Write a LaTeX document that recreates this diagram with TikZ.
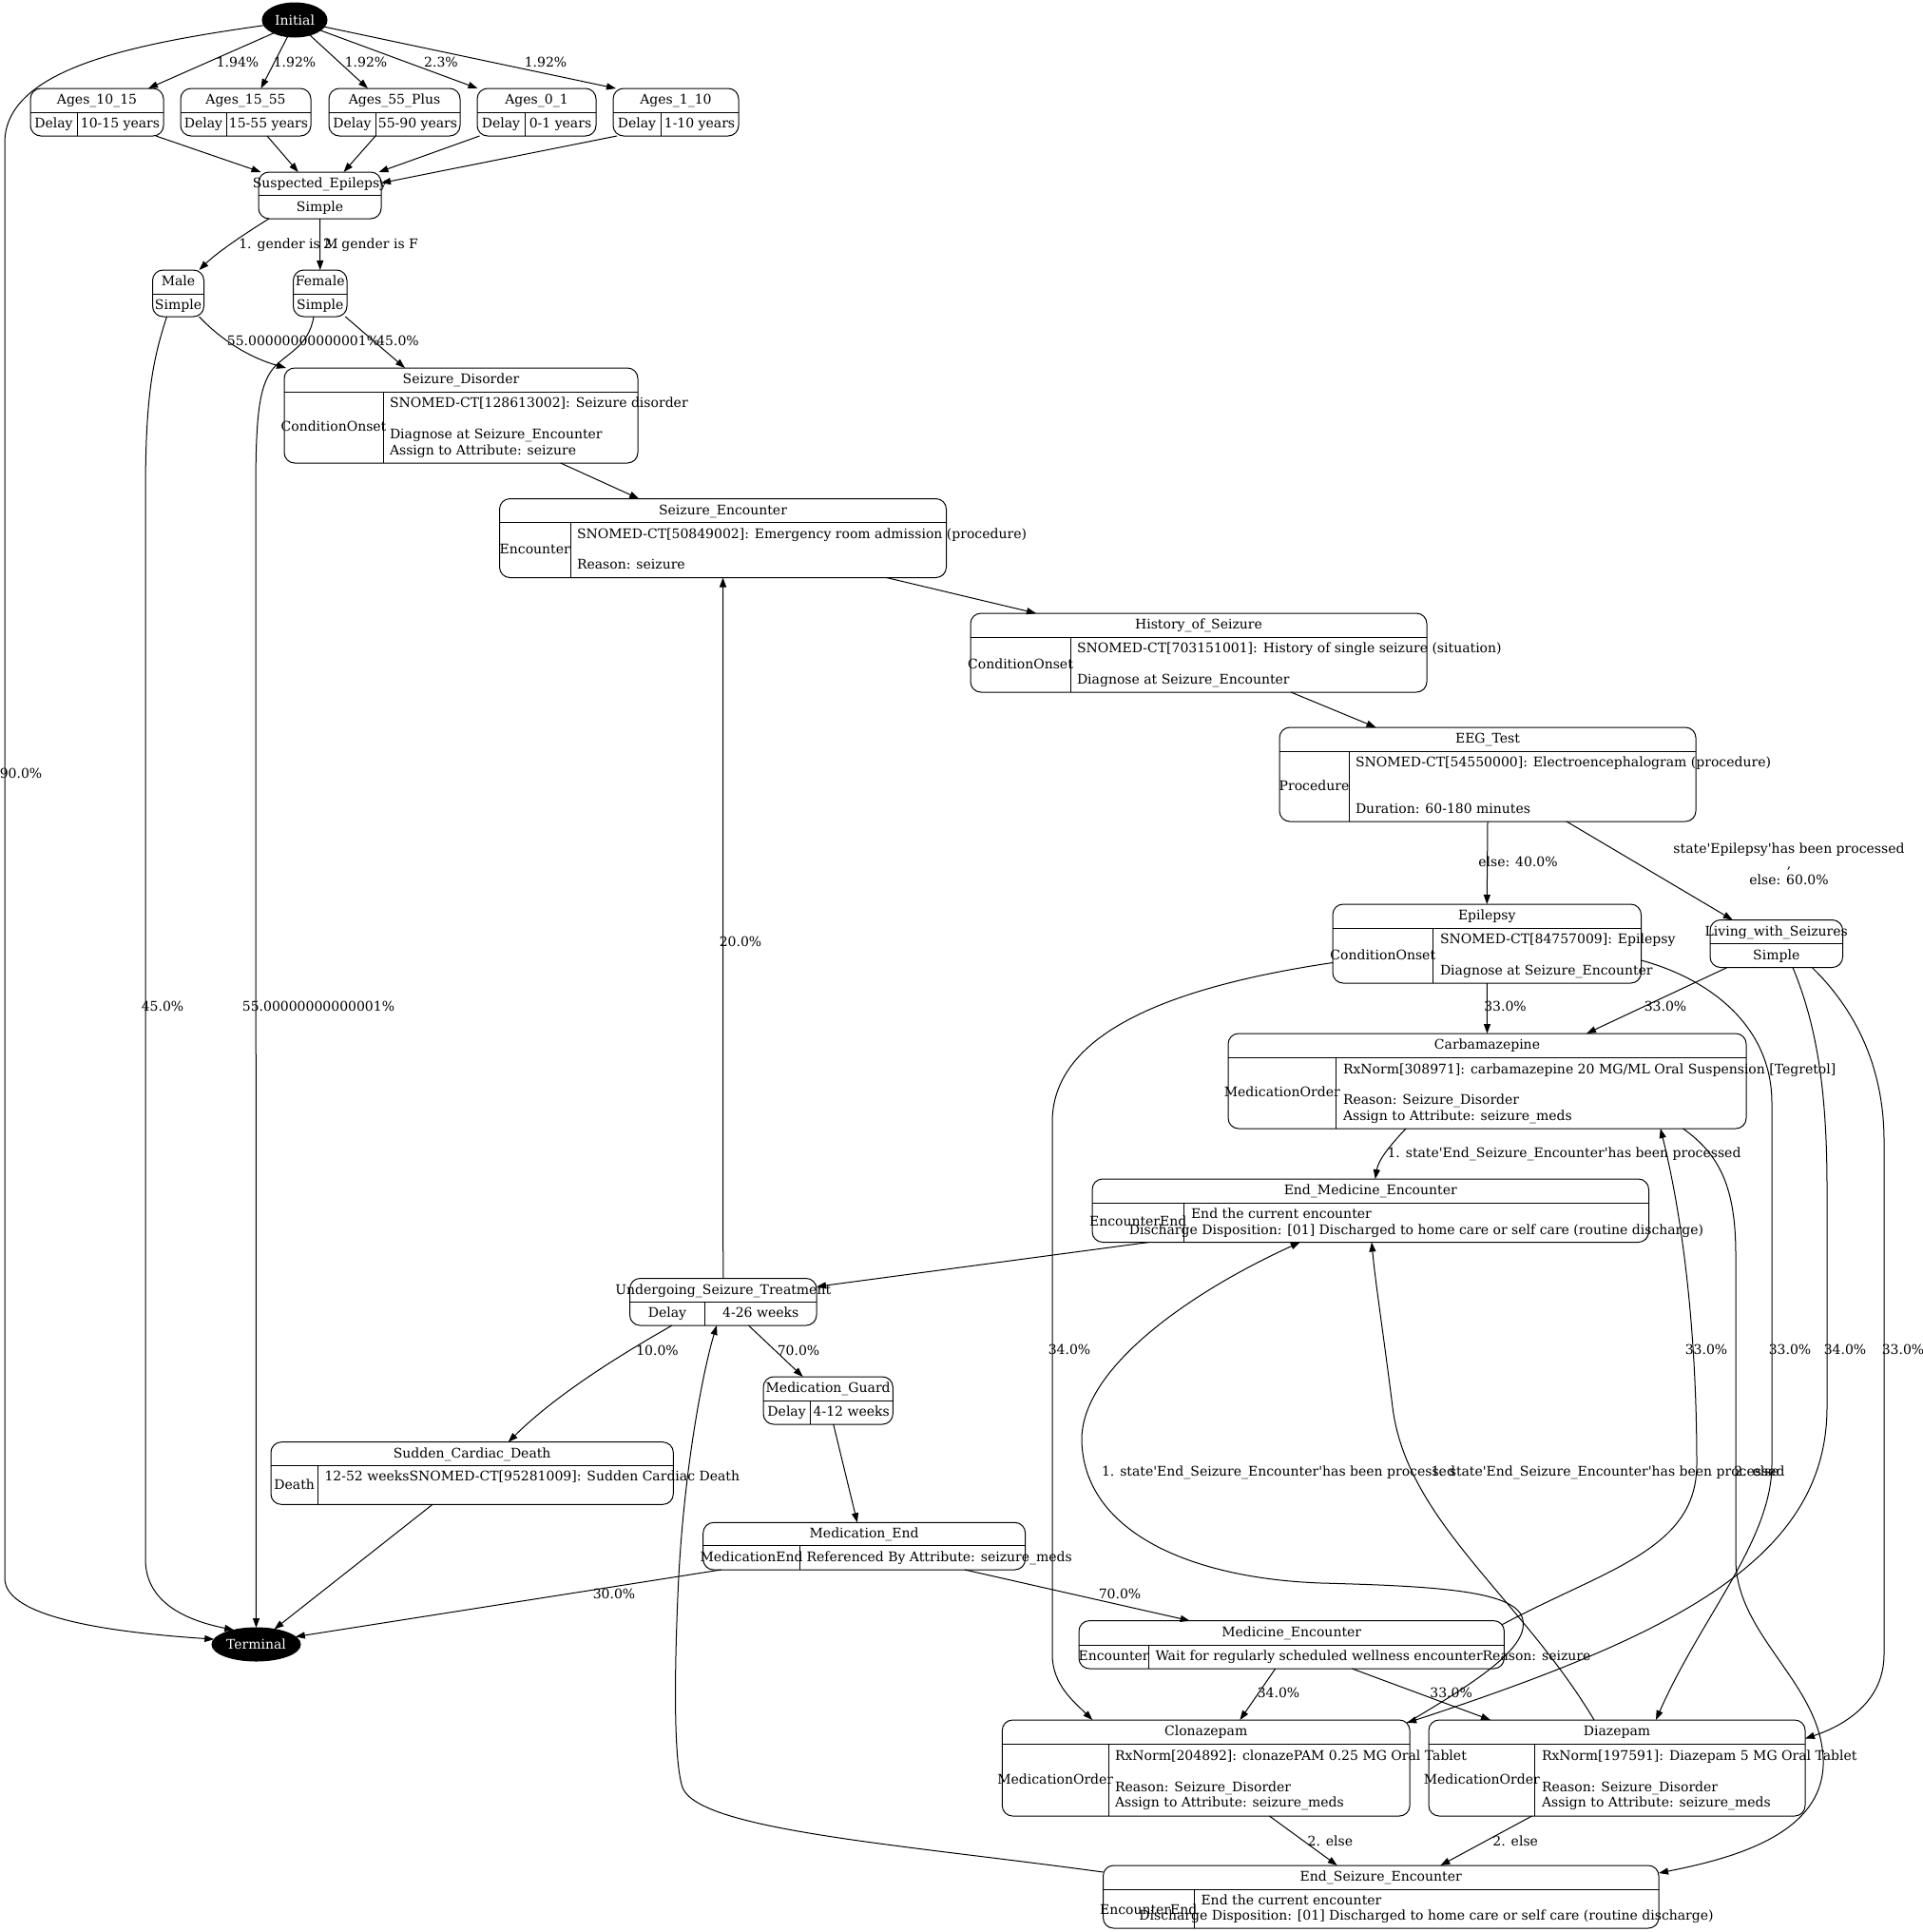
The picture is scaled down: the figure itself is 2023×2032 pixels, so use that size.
\documentclass[tikz,border=0pt]{standalone}
\usepackage{fontspec}
\setmainfont{DejaVu Serif}
\usetikzlibrary{arrows.meta,shapes.geometric}
\newcommand\gvf{\fontsize{14bp}{16.6bp}\selectfont}
\newcommand\gvq{\textquotesingle}
\tikzset{
 recbox/.style={draw, line width=1bp, rounded corners=11bp, inner sep=0pt, outer sep=0pt},
 recline/.style={draw, line width=1bp},
 txt/.style={font=\gvf, inner sep=0pt, outer sep=0pt, anchor=mid, yshift=-1.5bp},
 ltxt/.style={txt, anchor=mid west},
 edge/.style={draw, line width=1bp, -{Triangle[length=10bp,width=7bp]}},
 elab/.style={txt},
 blob/.style={ellipse, fill=black, draw=black, line width=1bp, text=white, font=\gvf, inner sep=0pt, outer sep=0pt},
}
\newcommand\gvrec[6]{%
 \node[recbox, minimum width=#4bp-#2bp, minimum height=#5bp-#3bp, anchor=north west] (#1) at (#2,#3) {};
 \draw[recline] (#2,#6) -- (#4,#6);}
\newcommand\gvcol[3]{\draw[recline] (#1,#2) -- (#1,#3);}
\begin{document}
\begin{tikzpicture}[x=1bp,y=-1bp]
\useasboundingbox (0,0) rectangle (2023,2032);
\fill[white] (0,0) rectangle (2023,2032);

% ---------- nodes ----------
\node[blob, minimum width=68bp, minimum height=36bp] (init) at (310,21) {Initial};
\node[blob, minimum width=93bp, minimum height=35bp] (term) at (269.5,1729.5) {Terminal};

\gvrec{a1015}{32}{93}{172}{143}{118}\gvcol{81}{118}{143}
\node[txt] at (102,105.5) {Ages\_10\_15};
\node[txt] at (56.5,130.5) {Delay};
\node[txt] at (126.5,130.5) {10-15 years};

\gvrec{a1555}{190}{93}{327}{143}{118}\gvcol{238}{118}{143}
\node[txt] at (258.5,105.5) {Ages\_15\_55};
\node[txt] at (214,130.5) {Delay};
\node[txt] at (282.5,130.5) {15-55 years};

\gvrec{a55p}{346}{93}{484}{143}{118}\gvcol{395}{118}{143}
\node[txt] at (415,105.5) {Ages\_55\_Plus};
\node[txt] at (370.5,130.5) {Delay};
\node[txt] at (439.5,130.5) {55-90 years};

\gvrec{a01}{502}{93}{627}{143}{118}\gvcol{552}{118}{143}
\node[txt] at (564.5,105.5) {Ages\_0\_1};
\node[txt] at (527,130.5) {Delay};
\node[txt] at (589.5,130.5) {0-1 years};

\gvrec{a110}{645}{93}{777}{143}{118}\gvcol{695}{118}{143}
\node[txt] at (711,105.5) {Ages\_1\_10};
\node[txt] at (670,130.5) {Delay};
\node[txt] at (736,130.5) {1-10 years};

\gvrec{susp}{272}{181}{401}{230}{205.5}
\node[txt] at (336.5,193.2) {Suspected\_Epilepsy};
\node[txt] at (336.5,218) {Simple};

\gvrec{male}{160.5}{284}{214.5}{333}{309}
\node[txt] at (187.5,296.5) {Male};
\node[txt] at (187.5,321) {Simple};

\gvrec{female}{308.5}{284}{365}{333}{309}
\node[txt] at (336.75,296.5) {Female};
\node[txt] at (336.75,321) {Simple};

\gvrec{sdis}{299}{387}{671}{487}{412}\gvcol{403}{412}{487}
\node[txt] at (485,399.5) {Seizure\_Disorder};
\node[txt] at (351,449.5) {ConditionOnset};
\node[ltxt] at (410,424.9) {SNOMED-CT[128613002]: Seizure disorder};
\node[ltxt] at (410,457.7) {Diagnose at Seizure\_Encounter};
\node[ltxt] at (410,474.1) {Assign to Attribute: seizure};

\gvrec{senc}{525.5}{524.5}{995.5}{607.5}{549.5}\gvcol{600}{549.5}{607.5}
\node[txt] at (760.5,537) {Seizure\_Encounter};
\node[txt] at (562.75,578.5) {Encounter};
\node[ltxt] at (607,562.1) {SNOMED-CT[50849002]: Emergency room admission (procedure)};
\node[ltxt] at (607,594.9) {Reason: seizure};

\gvrec{hist}{1021}{645}{1501}{728}{670}\gvcol{1126}{670}{728}
\node[txt] at (1261,657.5) {History\_of\_Seizure};
\node[txt] at (1073.5,699) {ConditionOnset};
\node[ltxt] at (1133,682.6) {SNOMED-CT[703151001]: History of single seizure (situation)};
\node[ltxt] at (1133,715.4) {Diagnose at Seizure\_Encounter};

\gvrec{eeg}{1346}{765}{1784}{864}{790}\gvcol{1419}{790}{864}
\node[txt] at (1565,777.5) {EEG\_Test};
\node[txt] at (1382.5,827) {Procedure};
\node[ltxt] at (1426,802.4) {SNOMED-CT[54550000]: Electroencephalogram (procedure)};
\node[ltxt] at (1426,851.6) {Duration: 60-180 minutes};

\gvrec{epi}{1402}{951}{1726.5}{1034}{976}\gvcol{1507.5}{976}{1034}
\node[txt] at (1564.25,963.5) {Epilepsy};
\node[txt] at (1454.75,1005) {ConditionOnset};
\node[ltxt] at (1515,988.6) {SNOMED-CT[84757009]: Epilepsy};
\node[ltxt] at (1515,1021.4) {Diagnose at Seizure\_Encounter};

\gvrec{living}{1799}{967.5}{1938.5}{1017.5}{992.3}
\node[txt] at (1868.75,980) {Living\_with\_Seizures};
\node[txt] at (1868.75,1005) {Simple};

\gvrec{carb}{1292}{1087}{1837}{1187}{1112}\gvcol{1405.6}{1112}{1187}
\node[txt] at (1564.5,1099.5) {Carbamazepine};
\node[txt] at (1348.8,1149.5) {MedicationOrder};
\node[ltxt] at (1413,1124.9) {RxNorm[308971]: carbamazepine 20 MG/ML Oral Suspension [Tegretol]};
\node[ltxt] at (1413,1157.7) {Reason: Seizure\_Disorder};
\node[ltxt] at (1413,1174.1) {Assign to Attribute: seizure\_meds};

\gvrec{endmed}{1149}{1240}{1734.5}{1306.5}{1265}\gvcol{1245.4}{1265}{1306.5}
\node[txt] at (1441.75,1252.5) {End\_Medicine\_Encounter};
\node[txt] at (1197.2,1285.7) {EncounterEnd};
\node[ltxt] at (1253,1277.5) {End the current encounter};
\node[txt] at (1490,1294) {Discharge Disposition: [01] Discharged to home care or self care (routine discharge)};

\gvrec{undergo}{662.5}{1344.5}{859}{1394}{1369.5}\gvcol{741.5}{1369.5}{1394}
\node[txt] at (760.75,1357) {Undergoing\_Seizure\_Treatment};
\node[txt] at (702,1381.7) {Delay};
\node[txt] at (800.2,1381.7) {4-26 weeks};

\gvrec{guard}{803}{1448}{939.3}{1498}{1473}\gvcol{852.2}{1473}{1498}
\node[txt] at (871.15,1460.5) {Medication\_Guard};
\node[txt] at (827.6,1485.5) {Delay};
\node[txt] at (895.7,1485.5) {4-12 weeks};

\gvrec{sudden}{285}{1516.7}{708.3}{1582.3}{1541.7}\gvcol{334.3}{1541.7}{1582.3}
\node[txt] at (496.65,1529.2) {Sudden\_Cardiac\_Death};
\node[txt] at (309.65,1562) {Death};
\node[ltxt] at (341.5,1553.8) {12-52 weeksSNOMED-CT[95281009]: Sudden Cardiac Death};

\gvrec{medend}{739.7}{1601.3}{1078.6}{1651}{1625.7}\gvcol{841.5}{1625.7}{1651}
\node[txt] at (909.15,1613.5) {Medication\_End};
\node[txt] at (790.6,1638.3) {MedicationEnd};
\node[ltxt] at (848.5,1638.3) {Referenced By Attribute: seizure\_meds};

\gvrec{medenc}{1135}{1704.6}{1582.4}{1755}{1730}\gvcol{1208.2}{1730}{1755}
\node[txt] at (1358.7,1717.3) {Medicine\_Encounter};
\node[txt] at (1171.6,1742.5) {Encounter};
\node[ltxt] at (1215.5,1742.5) {Wait for regularly scheduled wellness encounterReason: seizure};

\gvrec{clon}{1054.3}{1809}{1483.1}{1910}{1834}\gvcol{1166}{1834}{1910}
\node[txt] at (1268.7,1821.5) {Clonazepam};
\node[txt] at (1110.2,1872) {MedicationOrder};
\node[ltxt] at (1173,1847.4) {RxNorm[204892]: clonazePAM 0.25 MG Oral Tablet};
\node[ltxt] at (1173,1880.2) {Reason: Seizure\_Disorder};
\node[ltxt] at (1173,1896.6) {Assign to Attribute: seizure\_meds};

\gvrec{diaz}{1503}{1809}{1899}{1910}{1834}\gvcol{1614.7}{1834}{1910}
\node[txt] at (1701,1821.5) {Diazepam};
\node[txt] at (1558.8,1872) {MedicationOrder};
\node[ltxt] at (1622,1847.4) {RxNorm[197591]: Diazepam 5 MG Oral Tablet};
\node[ltxt] at (1622,1880.2) {Reason: Seizure\_Disorder};
\node[ltxt] at (1622,1896.6) {Assign to Attribute: seizure\_meds};

\gvrec{endseiz}{1160.5}{1962}{1745}{2028}{1987}\gvcol{1256}{1987}{2028}
\node[txt] at (1452.75,1974.5) {End\_Seizure\_Encounter};
\node[txt] at (1208.2,2009) {EncounterEnd};
\node[ltxt] at (1263.5,1999.3) {End the current encounter};
\node[txt] at (1500.5,2015.7) {Discharge Disposition: [01] Discharged to home care or self care (routine discharge)};

% ---------- edges ----------
\draw[edge] (init.190) .. controls (150,45) and (5,70) .. (5,150) -- (5,1660) .. controls (5,1702) and (120,1717) .. (term.173) node[elab] at (22,814) {90.0\%};
\draw[edge] (init.212) -- ([xshift=54bp]a1015.north) node[elab] at (250,66) {1.94\%};
\draw[edge] (init.247) -- ([xshift=16bp]a1555.north) node[elab] at (310,66) {1.92\%};
\draw[edge] (init.315) -- ([xshift=-28bp]a55p.north) node[elab] at (385,66) {1.92\%};
\draw[edge] (init.338) -- ([xshift=-62bp]a01.north) node[elab] at (464,66) {2.3\%};
\draw[edge] (init.347) -- ([xshift=-63bp]a110.north) node[elab] at (574,66) {1.92\%};

\draw[edge] ([xshift=62bp]a1015.south) -- ([xshift=-62bp]susp.north);
\draw[edge] ([xshift=22.5bp]a1555.south) -- ([xshift=-22.7bp]susp.north);
\draw[edge] ([xshift=-20bp]a55p.south) -- ([xshift=25bp]susp.north);
\draw[edge] ([xshift=-60bp]a01.south) -- ([xshift=62bp]susp.north);
\draw[edge] ([xshift=-62bp]a110.south) -- ([yshift=13bp]susp.east);

\draw[edge] ([xshift=-53.5bp]susp.south) .. controls (262,243) and (230,264) .. ([xshift=22bp]male.north) node[elab] at (303.5,257) {1. gender is M};
\draw[edge] (susp.south) -- (female.north) node[elab] at (390,257) {2. gender is F};

\draw[edge] ([xshift=22bp]male.south) .. controls (232,357) and (262,376) .. ([xshift=-184bp]sdis.north) node[elab] at (319,359) {55.00000000000001\%};
\draw[edge] ([xshift=26.5bp]female.south) -- ([xshift=-59bp]sdis.north) node[elab] at (418.5,359) {45.0\%};
\draw[edge] ([xshift=-12bp]male.south) .. controls (160,380) and (153,420) .. (153,520) -- (153,1640) .. controls (153,1690) and (205,1706) .. (term.147) node[elab] at (171,1059) {45.0\%};
\draw[edge] ([xshift=-6.75bp]female.south) .. controls (325,365) and (300,372) .. (287,388) .. controls (272,407) and (269,440) .. (269,520) -- (term.north) node[elab] at (335,1059) {55.00000000000001\%};

\draw[edge] ([xshift=104.7bp]sdis.south) -- ([xshift=-88.3bp]senc.north);
\draw[edge] ([xshift=172bp]senc.south) -- ([xshift=-171bp]hist.north);
\draw[edge] ([xshift=97bp]hist.south) -- ([xshift=-117.5bp]eeg.north);
\draw[edge] (eeg.south) -- (epi.north) node[elab] at (1597,907) {else: 40.0\%};
\draw[edge] ([xshift=83bp]eeg.south) -- ([xshift=-46bp]living.north) node[elab, anchor=center, align=center] at (1882,907) {state\gvq Epilepsy\gvq has been processed\\,\\else: 60.0\%};
\draw[edge] (epi.south) -- (carb.north) node[elab] at (1583.5,1059) {33.0\%};
\draw[edge] ([xshift=-51.7bp]living.south) -- ([xshift=104.5bp]carb.north) node[elab] at (1752,1059) {33.0\%};

\draw[edge] ([yshift=-20bp]epi.west) .. controls (1250,1035) and (1107,1080) .. (1107,1180) -- (1107,1740) .. controls (1107,1772) and (1130,1790) .. ([xshift=-119.4bp]clon.north) node[elab] at (1125,1420) {34.0\%};
\draw[edge] ([yshift=-17.5bp]epi.east) .. controls (1800,1030) and (1864,1080) .. (1864,1160) -- (1864,1540) .. controls (1864,1620) and (1790,1700) .. ([xshift=41bp]diaz.north) node[elab] at (1883,1420) {33.0\%};
\draw[edge] ([xshift=17.2bp]living.south) .. controls (1912,1080) and (1922,1150) .. (1922,1250) -- (1922,1480) .. controls (1922,1640) and (1760,1720) .. ([xshift=-3bp,yshift=-3bp]clon.north east) node[elab] at (1941,1420) {34.0\%};
\draw[edge] ([xshift=37.5bp]living.south) .. controls (1950,1060) and (1982,1120) .. (1982,1200) -- (1982,1740) .. controls (1982,1790) and (1940,1815) .. ([yshift=31bp]diaz.east) node[elab] at (2002,1420) {33.0\%};

\draw[edge] ([xshift=-85.5bp]carb.south) .. controls (1462,1205) and (1450,1220) .. ([xshift=5bp]endmed.north) node[elab] at (1645.5,1213) {1. state\gvq End\_Seizure\_Encounter\gvq has been processed};
\draw[edge] ([xshift=206bp]carb.south) .. controls (1810,1215) and (1826,1250) .. (1826,1320) -- (1826,1640) .. controls (1826,1720) and (1915,1770) .. (1918,1850) .. controls (1921,1930) and (1820,1955) .. ([yshift=25bp]endseiz.east) node[elab] at (1848,1548) {2. else};
\draw[edge] ([xshift=-2bp,yshift=-4bp]medenc.north east) .. controls (1690,1650) and (1785,1630) .. (1785,1540) .. controls (1785,1400) and (1770,1280) .. ([xshift=182.3bp]carb.south) node[elab] at (1795,1420) {33.0\%};
\draw[edge] ([xshift=-3bp,yshift=-3bp]clon.north east) .. controls (1560,1765) and (1615,1728) .. (1600,1698) .. controls (1585,1672) and (1500,1668) .. (1390,1665) .. controls (1250,1660) and (1140,1610) .. (1138,1515) .. controls (1137,1440) and (1250,1360) .. ([xshift=-74bp]endmed.south) node[elab] at (1345,1548) {1. state\gvq End\_Seizure\_Encounter\gvq has been processed};
\draw[edge] ([xshift=-24bp]diaz.north) .. controls (1600,1680) and (1480,1600) .. (1465,1480) .. controls (1455,1400) and (1447,1350) .. ([xshift=1.25bp]endmed.south) node[elab] at (1691.5,1548) {1. state\gvq End\_Seizure\_Encounter\gvq has been processed};

\draw[edge] ([xshift=-233bp]endmed.south) -- ([yshift=16bp]undergo.east);
\draw[edge] (undergo.north) -- (senc.south) node[elab] at (779,991) {20.0\%};
\draw[edge] ([xshift=-53.7bp]undergo.south) .. controls (665,1418) and (590,1462) .. ([xshift=38bp]sudden.north) node[elab] at (691.5,1421) {10.0\%};
\draw[edge] ([xshift=26.7bp]undergo.south) -- ([xshift=-26.5bp]guard.north) node[elab] at (840,1421) {70.0\%};
\draw[edge] ([xshift=5.6bp]guard.south) -- ([xshift=-7.3bp]medend.north);
\draw[edge] ([xshift=-41.6bp]sudden.south) -- (term.40);
\draw[edge] ([xshift=-150.6bp]medend.south) -- (term.11) node[elab] at (646,1677) {30.0\%};
\draw[edge] ([xshift=105.8bp]medend.south) -- ([xshift=-107bp]medenc.north) node[elab] at (1178,1677) {70.0\%};
\draw[edge] ([xshift=-17bp]medenc.south) -- ([xshift=35.7bp]clon.north) node[elab] at (1345,1781) {34.0\%};
\draw[edge] ([xshift=63.6bp]medenc.south) -- ([xshift=-133bp]diaz.north) node[elab] at (1526.6,1781) {33.0\%};
\draw[edge] ([xshift=66.7bp]clon.south) -- ([xshift=-46bp]endseiz.north) node[elab] at (1399.4,1937) {2. else};
\draw[edge] ([xshift=-89.4bp]diaz.south) -- ([xshift=62.6bp]endseiz.north) node[elab] at (1594.2,1937) {2. else};
\draw[edge] ([yshift=26bp]endseiz.west) .. controls (950,1940) and (735,1925) .. (718,1880) .. controls (708,1850) and (710,1750) .. (713,1680) .. controls (718,1550) and (740,1440) .. ([xshift=-6.75bp]undergo.south);
\end{tikzpicture}
\end{document}
